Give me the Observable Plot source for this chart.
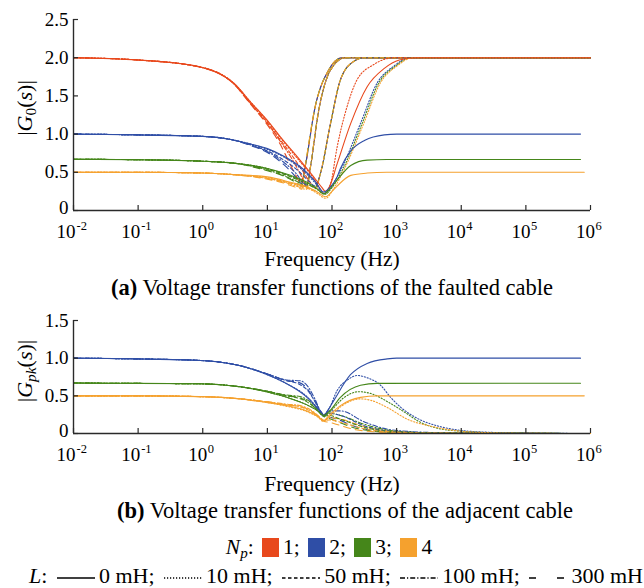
<!DOCTYPE html>
<html><head><meta charset="utf-8">
<script src="https://cdn.jsdelivr.net/npm/d3@7"></script>
<script src="https://cdn.jsdelivr.net/npm/@observablehq/plot@0.6"></script>
<style>
body{margin:0;background:#fff;}
#wrap{position:relative;width:644px;height:588px;font-family:"Liberation Serif","Times New Roman",serif;color:#000;overflow:hidden;}
.abs{position:absolute;white-space:nowrap;}
.sw{display:inline-block;width:17px;height:19px;vertical-align:-3px;margin:0 4px 0 3px;}
.ls{display:inline-block;vertical-align:middle;margin:0 4px 0 4px;}
sub{font-size:70%;vertical-align:-4px;line-height:0;}
</style></head><body><div id="wrap"></div><script>
// ---------- data (frequency Hz, magnitude) ----------
const npLabels = ["1", "2", "3", "4"];
const lLabels = ["0 mH", "10 mH", "50 mH", "100 mH", "300 mH"];
const xTickValues = [0.01, 0.1, 1, 10, 100, 1000, 10000, 100000, 1000000];
const yTicksTop = [0, 0.5, 1.0, 1.5, 2.0, 2.5];
const yTicksBottom = [0, 0.5, 1.0, 1.5];

// (a) |G0(s)| faulted cable
const a_np1_L0 = [[0.01,2.0],[0.1,1.97],[0.3,1.94],[1,1.87],[2,1.77],[3,1.67],[5.5,1.42],[10,1.18],[16,0.96],[32,0.66],[52,0.44],[70,0.30],[79,0.25],[90,0.30],[120,0.61],[195,1.14],[350,1.62],[645,1.86],[1100,1.97],[2000,2.0],[1e6,2.0]];
const a_np1_L10 = [[0.01,2.0],[0.1,1.97],[1,1.87],[3,1.67],[5.5,1.42],[10,1.17],[16,0.95],[32,0.64],[52,0.42],[66,0.28],[75,0.22],[95,0.35],[120,0.83],[171,1.36],[244,1.71],[442,1.91],[900,2.0],[1e6,2.0]];
const a_np1_L50 = [[0.01,2.0],[0.1,1.97],[1,1.87],[3,1.66],[5.5,1.40],[10,1.15],[16,0.92],[25,0.70],[35,0.52],[45,0.38],[55,0.30],[66,0.48],[95,1.14],[135,1.71],[216,1.95],[320,2.0],[1e6,2.0]];
const a_np1_L100 = [[0.01,2.0],[0.1,1.97],[1,1.87],[3,1.66],[5.5,1.40],[10,1.14],[16,0.90],[25,0.65],[33,0.46],[40,0.32],[46,0.55],[62,1.30],[95,1.84],[160,2.0],[1e6,2.0]];
const a_np1_L300 = [[0.01,2.0],[0.1,1.97],[1,1.87],[3,1.66],[5.5,1.39],[10,1.12],[16,0.86],[22,0.62],[28,0.45],[33,0.35],[38,0.55],[55,1.36],[89,1.84],[144,2.0],[1e6,2.0]];

const a_np2_L0 = [[0.01,1.0],[0.1,0.99],[1,0.97],[2.7,0.93],[5.5,0.87],[10,0.81],[18,0.71],[36,0.54],[55,0.38],[75,0.24],[90,0.29],[120,0.44],[135,0.55],[195,0.78],[323,0.92],[645,0.99],[1000,1.0],[7e5,1.0]];
const a_np2_L10 = [[0.01,1.0],[0.1,0.99],[1,0.97],[2.7,0.93],[5.5,0.87],[10,0.80],[18,0.70],[36,0.52],[55,0.36],[76,0.22],[95,0.30],[144,0.57],[276,1.14],[500,1.67],[905,1.89],[1600,2.0],[1e6,2.0]];
const a_np2_L50 = [[0.01,1.0],[0.1,0.99],[1,0.97],[2.7,0.93],[5.5,0.86],[10,0.78],[18,0.66],[30,0.52],[42,0.40],[55,0.32],[66,0.48],[95,1.14],[135,1.71],[216,1.95],[320,2.0],[1e6,2.0]];
const a_np2_L100 = [[0.01,1.0],[0.1,0.99],[1,0.97],[2.7,0.93],[5.5,0.86],[10,0.77],[18,0.63],[28,0.48],[36,0.36],[41,0.33],[46,0.55],[62,1.30],[95,1.84],[160,2.0],[1e6,2.0]];
const a_np2_L300 = [[0.01,1.0],[0.1,0.99],[1,0.97],[2.7,0.93],[5.5,0.85],[10,0.76],[18,0.60],[25,0.48],[31,0.38],[34,0.35],[38,0.55],[55,1.36],[89,1.84],[144,2.0],[1e6,2.0]];

const a_np3_L0 = [[0.01,0.67],[0.1,0.665],[1,0.645],[3,0.62],[10,0.55],[22.7,0.46],[41,0.37],[60,0.28],[75,0.22],[90,0.27],[120,0.40],[195,0.59],[350,0.66],[700,0.667],[7e5,0.667]];
const a_np3_L10 = [[0.01,0.67],[0.1,0.665],[1,0.645],[3,0.62],[10,0.55],[22.7,0.45],[41,0.36],[60,0.27],[77,0.21],[100,0.30],[153,0.57],[293,1.14],[530,1.67],[960,1.89],[1700,2.0],[1e6,2.0]];
const a_np3_L50 = [[0.01,0.67],[0.1,0.665],[1,0.645],[3,0.62],[10,0.54],[20,0.46],[32,0.39],[45,0.33],[55,0.30],[66,0.48],[95,1.14],[135,1.71],[216,1.95],[320,2.0],[1e6,2.0]];
const a_np3_L100 = [[0.01,0.67],[0.1,0.665],[1,0.645],[3,0.62],[10,0.53],[20,0.44],[30,0.37],[38,0.32],[41,0.31],[46,0.55],[62,1.30],[95,1.84],[160,2.0],[1e6,2.0]];
const a_np3_L300 = [[0.01,0.67],[0.1,0.665],[1,0.645],[3,0.62],[10,0.52],[18,0.45],[26,0.38],[31,0.34],[34,0.32],[38,0.55],[55,1.36],[89,1.84],[144,2.0],[1e6,2.0]];

const a_np4_L0 = [[0.01,0.5],[0.1,0.5],[1,0.49],[3,0.47],[10,0.44],[22.7,0.37],[41,0.31],[60,0.24],[80,0.18],[95,0.23],[120,0.32],[195,0.46],[353,0.49],[700,0.5],[8e5,0.5]];
const a_np4_L10 = [[0.01,0.5],[0.1,0.5],[1,0.49],[3,0.47],[10,0.43],[22.7,0.36],[41,0.30],[60,0.22],[80,0.16],[105,0.28],[161,0.57],[310,1.14],[560,1.67],[1010,1.89],[1800,2.0],[1e6,2.0]];
const a_np4_L50 = [[0.01,0.5],[0.1,0.5],[1,0.49],[3,0.47],[10,0.42],[20,0.37],[32,0.32],[45,0.28],[55,0.26],[66,0.48],[95,1.14],[135,1.71],[216,1.95],[320,2.0],[1e6,2.0]];
const a_np4_L100 = [[0.01,0.5],[0.1,0.5],[1,0.49],[3,0.47],[10,0.42],[20,0.36],[30,0.31],[38,0.28],[41,0.28],[46,0.55],[62,1.30],[95,1.84],[160,2.0],[1e6,2.0]];
const a_np4_L300 = [[0.01,0.5],[0.1,0.5],[1,0.49],[3,0.47],[10,0.41],[18,0.36],[26,0.31],[31,0.29],[34,0.28],[38,0.55],[55,1.36],[89,1.84],[144,2.0],[1e6,2.0]];

// (b) |Gpk(s)| adjacent cable
const b_np2_L0 = [[0.01,1.0],[0.1,0.99],[0.91,0.97],[3.8,0.90],[10,0.78],[20,0.66],[41,0.48],[60,0.33],[74,0.24],[85,0.30],[107,0.44],[193,0.78],[350,0.93],[716,0.99],[1000,1.0],[7e5,1.0]];
const b_np2_L10 = [[0.01,1.0],[0.1,0.99],[0.91,0.97],[3.8,0.90],[10,0.78],[20,0.66],[41,0.49],[60,0.34],[74,0.25],[90,0.33],[120,0.57],[180,0.72],[245,0.77],[350,0.74],[565,0.64],[808,0.48],[1150,0.35],[2100,0.20],[4800,0.09],[10000,0.04],[30000,0.015],[1e5,0.005],[1e6,0.0]];
const b_np2_L50 = [[0.01,1.0],[0.1,0.99],[0.91,0.97],[3.8,0.90],[10,0.79],[20,0.70],[30,0.66],[41,0.58],[55,0.42],[70,0.27],[76,0.24],[90,0.27],[135,0.24],[323,0.10],[808,0.03],[3000,0.01],[1e6,0.0]];
const b_np2_L100 = [[0.01,1.0],[0.1,0.99],[0.91,0.97],[3.8,0.90],[10,0.79],[20,0.71],[32,0.70],[41,0.64],[55,0.45],[70,0.26],[76,0.24],[90,0.30],[135,0.30],[323,0.15],[808,0.05],[3000,0.015],[10000,0.005],[1e6,0.0]];
const b_np2_L300 = [[0.01,1.0],[0.1,0.99],[0.91,0.97],[3.8,0.90],[10,0.79],[20,0.70],[30,0.68],[41,0.60],[55,0.42],[70,0.27],[76,0.23],[90,0.22],[120,0.19],[233,0.09],[808,0.02],[3000,0.005],[1e6,0.0]];

const b_np3_L0 = [[0.01,0.67],[0.1,0.665],[0.91,0.66],[3.8,0.62],[10,0.55],[20,0.48],[41,0.38],[60,0.30],[74,0.24],[90,0.29],[135,0.48],[276,0.64],[500,0.665],[7e5,0.667]];
const b_np3_L10 = [[0.01,0.67],[0.1,0.665],[0.91,0.66],[3.8,0.62],[10,0.55],[20,0.48],[41,0.38],[60,0.30],[74,0.23],[95,0.30],[150,0.47],[260,0.555],[400,0.53],[800,0.40],[1460,0.26],[2100,0.17],[4800,0.06],[10000,0.03],[30000,0.01],[1e5,0.004],[1e6,0.0]];
const b_np3_L50 = [[0.01,0.67],[0.1,0.665],[0.91,0.66],[3.8,0.62],[10,0.56],[20,0.50],[30,0.47],[41,0.42],[55,0.34],[70,0.25],[76,0.23],[90,0.24],[135,0.19],[323,0.08],[808,0.025],[3000,0.008],[1e6,0.0]];
const b_np3_L100 = [[0.01,0.67],[0.1,0.665],[0.91,0.66],[3.8,0.62],[10,0.56],[20,0.51],[32,0.49],[41,0.45],[55,0.36],[70,0.25],[76,0.23],[90,0.27],[135,0.24],[323,0.12],[808,0.04],[3000,0.01],[1e6,0.0]];
const b_np3_L300 = [[0.01,0.67],[0.1,0.665],[0.91,0.66],[3.8,0.62],[10,0.56],[20,0.50],[30,0.48],[41,0.43],[55,0.34],[70,0.25],[76,0.22],[90,0.20],[120,0.16],[233,0.07],[808,0.015],[3000,0.004],[1e6,0.0]];

const b_np4_L0 = [[0.01,0.5],[0.1,0.5],[0.91,0.49],[3.8,0.46],[10,0.41],[20,0.37],[41,0.30],[60,0.23],[74,0.17],[90,0.24],[135,0.37],[276,0.48],[500,0.5],[8e5,0.5]];
const b_np4_L10 = [[0.01,0.5],[0.1,0.5],[0.91,0.49],[3.8,0.46],[10,0.41],[20,0.36],[41,0.29],[60,0.22],[74,0.16],[95,0.24],[150,0.38],[276,0.46],[400,0.44],[700,0.35],[1460,0.19],[3700,0.09],[10000,0.03],[30000,0.01],[1e5,0.003],[1e6,0.0]];
const b_np4_L50 = [[0.01,0.5],[0.1,0.5],[0.91,0.49],[3.8,0.46],[10,0.42],[20,0.38],[30,0.36],[41,0.32],[55,0.26],[70,0.19],[76,0.17],[90,0.18],[135,0.15],[323,0.06],[808,0.02],[3000,0.006],[1e6,0.0]];
const b_np4_L100 = [[0.01,0.5],[0.1,0.5],[0.91,0.49],[3.8,0.46],[10,0.42],[20,0.39],[32,0.37],[41,0.34],[55,0.27],[70,0.19],[76,0.17],[90,0.21],[135,0.19],[323,0.09],[808,0.03],[3000,0.008],[1e6,0.0]];
const b_np4_L300 = [[0.01,0.5],[0.1,0.5],[0.91,0.49],[3.8,0.46],[10,0.42],[20,0.38],[30,0.36],[41,0.33],[55,0.26],[70,0.18],[76,0.16],[90,0.15],[120,0.12],[233,0.05],[808,0.012],[3000,0.003],[1e6,0.0]];

// ---------- styles ----------
const npColors = {"1": "#E8481C", "2": "#2F4EA6", "3": "#45861A", "4": "#F5A12E"};
const lDash = {"0 mH": null, "10 mH": "1.2,1.8", "50 mH": "3.5,2.5", "100 mH": "5,2,1.2,2", "300 mH": "7,5"};

const curvesA = [
  ["1","0 mH",a_np1_L0],["1","10 mH",a_np1_L10],["1","50 mH",a_np1_L50],["1","100 mH",a_np1_L100],["1","300 mH",a_np1_L300],
  ["2","0 mH",a_np2_L0],["2","10 mH",a_np2_L10],["2","50 mH",a_np2_L50],["2","100 mH",a_np2_L100],["2","300 mH",a_np2_L300],
  ["3","0 mH",a_np3_L0],["3","10 mH",a_np3_L10],["3","50 mH",a_np3_L50],["3","100 mH",a_np3_L100],["3","300 mH",a_np3_L300],
  ["4","0 mH",a_np4_L0],["4","10 mH",a_np4_L10],["4","50 mH",a_np4_L50],["4","100 mH",a_np4_L100],["4","300 mH",a_np4_L300]
];
const curvesB = [
  ["2","0 mH",b_np2_L0],["2","10 mH",b_np2_L10],["2","50 mH",b_np2_L50],["2","100 mH",b_np2_L100],["2","300 mH",b_np2_L300],
  ["3","0 mH",b_np3_L0],["3","10 mH",b_np3_L10],["3","50 mH",b_np3_L50],["3","100 mH",b_np3_L100],["3","300 mH",b_np3_L300],
  ["4","0 mH",b_np4_L0],["4","10 mH",b_np4_L10],["4","50 mH",b_np4_L50],["4","100 mH",b_np4_L100],["4","300 mH",b_np4_L300]
];

const FONT = "Liberation Serif, Times New Roman, serif";
const AX = "#2a2a2a";

function panel(curves, ymax, yTicks, height, mt, mb) {
  const plotH = height - mt - mb;
  const tickY = 5 * ymax / plotH;            // 5px inward tick in data units
  const tickX = 0.01 * Math.pow(10, 8 * 5 / (644 - 73 - 54));
  const negT = xTickValues.filter(d => d < 1);
  const posT = xTickValues.filter(d => d >= 1);
  const order = ["0 mH","10 mH","50 mH","100 mH","300 mH"];
  const sorted = curves.slice().sort((a,b) => order.indexOf(b[1]) - order.indexOf(a[1]));
  return Plot.plot({
    width: 644, height, marginLeft: 73, marginRight: 54, marginTop: mt, marginBottom: mb,
    x: {type: "log", domain: [0.01, 1e6], axis: null},
    y: {domain: [0, ymax], axis: null},
    style: {fontFamily: FONT, background: "transparent", overflow: "visible", color: "#000"},
    marks: [
      ...sorted.map(([np, L, data]) => Plot.line(data, {
        x: d => d[0], y: d => d[1], stroke: npColors[np], strokeWidth: 1.1,
        strokeDasharray: lDash[L], curve: "monotone-x"
      })),
      Plot.ruleY([0], {x1: 0.01, x2: 1e6, stroke: AX, strokeWidth: 1.4}),
      Plot.ruleX([0.01], {y1: 0, y2: ymax, stroke: AX, strokeWidth: 1.4}),
      Plot.ruleX(xTickValues, {x: d => d, y1: 0, y2: tickY, stroke: AX, strokeWidth: 1.2}),
      Plot.ruleY(yTicks, {y: d => d, x1: 0.01, x2: tickX, stroke: AX, strokeWidth: 1.2}),
      Plot.text(yTicks.filter(d => d > 0), {x: 0.01, y: d => d, text: d => d.toFixed(1), textAnchor: "end", dx: -5, fontSize: 19, fill: "#000"}),
      Plot.text([0], {x: 0.01, y: d => d, text: d => "0", textAnchor: "end", dx: -5, dy: -3, fontSize: 19, fill: "#000"}),
      Plot.text(negT, {x: d => d, y: 0, text: d => "10", textAnchor: "end", dx: 2, dy: 21, fontSize: 19, fill: "#000"}),
      Plot.text(negT, {x: d => d, y: 0, text: d => String(Math.round(Math.log10(d))), textAnchor: "start", dx: 3, dy: 15, fontSize: 12.5, fill: "#000"}),
      Plot.text(posT, {x: d => d, y: 0, text: d => "10", textAnchor: "end", dx: 4.5, dy: 21, fontSize: 19, fill: "#000"}),
      Plot.text(posT, {x: d => d, y: 0, text: d => String(Math.round(Math.log10(d))), textAnchor: "start", dx: 5, dy: 15, fontSize: 12.5, fill: "#000"})
    ]
  });
}

const wrap = document.getElementById("wrap");
function place(el, top) { el.style.position = "absolute"; el.style.left = "0px"; el.style.top = top + "px"; wrap.appendChild(el); }
place(panel(curvesA, 2.5, yTicksTop, 240, 19, 30), 0);
place(panel(curvesB, 1.5, yTicksBottom, 160, 20, 27), 300);

function html(str, style) { const d = document.createElement("div"); d.className = "abs"; d.innerHTML = str; Object.assign(d.style, style); wrap.appendChild(d); return d; }
// axis titles
html("Frequency (Hz)", {left: "182px", width: "300px", top: "246px", fontSize: "21.5px", lineHeight: "26px", textAlign: "center"});
html("Frequency (Hz)", {left: "182px", width: "300px", top: "471px", fontSize: "21.5px", lineHeight: "26px", textAlign: "center"});
html("<b>(a)</b> Voltage transfer functions of the faulted cable", {left: "2px", width: "660px", top: "275px", fontSize: "22.5px", lineHeight: "26px", textAlign: "center"});
html("<b>(b)</b> Voltage transfer functions of the adjacent cable", {left: "15px", width: "660px", top: "498px", fontSize: "22.5px", lineHeight: "26px", textAlign: "center"});
html("|<i>G</i><sub>0</sub>(<i>s</i>)|", {left: "-30px", width: "110px", top: "95px", fontSize: "22px", lineHeight: "26px", textAlign: "center", transform: "rotate(-90deg)"});
html("|<i>G<sub>pk</sub></i>(<i>s</i>)|", {left: "-30px", width: "110px", top: "358px", fontSize: "22px", lineHeight: "26px", textAlign: "center", transform: "rotate(-90deg)"});

// legend
const sw = npLabels.map((n, i) => `<span class="sw" style="background:${npColors[n]}"></span>${n}${i < npLabels.length - 1 ? ";" : ""}`).join(" ");
html(`<i>N<sub>p</sub></i>: ${sw}`, {left: "0px", width: "658px", top: "534px", fontSize: "21.5px", lineHeight: "26px", textAlign: "center"});
const lineSample = L => `<svg class="ls" width="38" height="6"><line x1="0" y1="3" x2="38" y2="3" stroke="#000" stroke-width="1.3" ${lDash[L] ? `stroke-dasharray="${L === "300 mH" ? "7,21" : lDash[L]}"` : ""}/></svg>`;
const lg = lLabels.map((L, i) => `${lineSample(L)}${L}${i < lLabels.length - 1 ? ";" : ""}`).join(" ");
html(`<i>L</i>: ${lg}`, {left: "4px", width: "664px", top: "563px", fontSize: "22px", lineHeight: "26px", textAlign: "center"});
</script></body></html>
